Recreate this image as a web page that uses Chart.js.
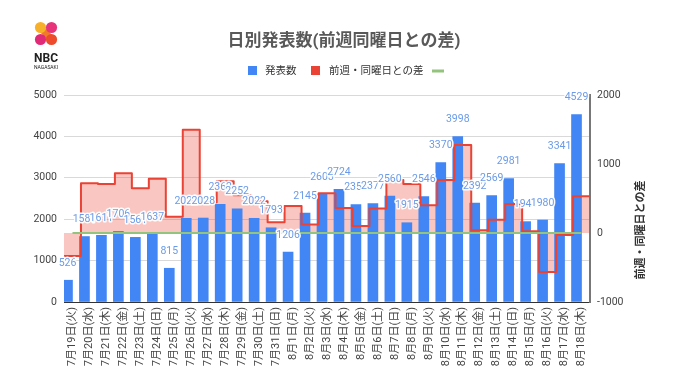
<!DOCTYPE html>
<html>
<head>
<meta charset="utf-8">
<script src="https://cdn.jsdelivr.net/npm/chart.js@4/dist/chart.umd.min.js"></script>
<style>
  html, body { margin: 0; padding: 0; background: #ffffff; }
  #wrap { width: 680px; height: 382px; position: relative; }
</style>
</head>
<body>
<div id="wrap"><canvas id="c" width="680" height="382"></canvas></div>
<script>
// ---- data ----
const dayLabels = [
  '7月19日(火)','7月20日(水)','7月21日(木)','7月22日(金)','7月23日(土)','7月24日(日)','7月25日(月)',
  '7月26日(火)','7月27日(水)','7月28日(木)','7月29日(金)','7月30日(土)','7月31日(日)','8月1日(月)',
  '8月2日(火)','8月3日(水)','8月4日(木)','8月5日(金)','8月6日(土)','8月7日(日)','8月8日(月)',
  '8月9日(火)','8月10日(水)','8月11日(木)','8月12日(金)','8月13日(土)','8月14日(日)','8月15日(月)',
  '8月16日(火)','8月17日(水)','8月18日(木)'
];
const dailyCounts = [526,1581,1611,1706,1561,1637,815,2022,2028,2362,2252,2022,1793,1206,2145,2603,2724,2352,2377,2560,1915,2546,3370,3998,2392,2569,2981,1941,1980,3341,4529];
const weekDiff = [-333,720,710,865,648,787,236,1496,447,751,546,461,156,391,123,575,362,100,355,767,709,401,767,1274,40,192,421,26,-566,-29,531];
const zeroRef = [0,0,0,0,0,0,0,0,0,0,0,0,0,0,0,0,0,0,0,0,0,0,0,0,0,0,0,0,0,0,0];
const leftTicks = [0,1000,2000,3000,4000,5000];
const rightTicks = [-1000,0,1000,2000];
const seriesNames = ['発表数','前週・同曜日との差',''];
const chartTitle = '日別発表数(前週同曜日との差)';
const rightAxisTitle = '前週・同曜日との差';

// step line: each value spans its whole category band
const stepPoints = [];
weekDiff.forEach((v, i) => { stepPoints.push({x: i - 0.5, y: v}); stepPoints.push({x: i + 0.5, y: v}); });
const zeroPoints = zeroRef.map((v, i) => ({x: i, y: v}));

const FONT = "Roboto, 'Noto Sans CJK JP', sans-serif";
const BLUE = '#4285F4', RED = '#EA4335', GREEN = '#93C47D';

const decor = {
  id: 'decor',
  afterDatasetsDraw(chart) {
    const ctx = chart.ctx;
    const meta = chart.getDatasetMeta(0);
    ctx.save();
    ctx.font = '10.5px ' + FONT;
    ctx.textAlign = 'center';
    ctx.textBaseline = 'middle';
    ctx.lineJoin = 'round';
    meta.data.forEach((bar, i) => {
      const t = String(dailyCounts[i]);
      ctx.strokeStyle = 'rgba(255,255,255,0.95)';
      ctx.lineWidth = 3;
      ctx.strokeText(t, bar.x, bar.y - 17);
      ctx.fillStyle = '#6b9be8';
      ctx.fillText(t, bar.x, bar.y - 17);
    });
    ctx.restore();
  },
  afterDraw(chart) {
    const ctx = chart.ctx;
    ctx.save();
    ctx.font = 'bold 17px ' + FONT;
    ctx.fillStyle = '#595959';
    ctx.textAlign = 'center';
    ctx.textBaseline = 'middle';
    ctx.fillText(chartTitle, 344, 42);
    ctx.font = '10.5px ' + FONT;
    ctx.textAlign = 'left';
    ctx.fillStyle = BLUE; ctx.fillRect(248, 66, 9, 9);
    ctx.fillStyle = '#333'; ctx.fillText(seriesNames[0], 265, 71);
    ctx.fillStyle = RED; ctx.fillRect(311, 66, 9, 9);
    ctx.fillStyle = '#333'; ctx.fillText(seriesNames[1], 329, 71);
    ctx.fillStyle = GREEN; ctx.fillRect(432, 69.5, 12, 3);
    ctx.save();
    ctx.translate(641, 230);
    ctx.rotate(-Math.PI / 2);
    ctx.font = 'bold 11px ' + FONT;
    ctx.fillStyle = '#333';
    ctx.textAlign = 'center';
    ctx.fillText(rightAxisTitle, 0, 0);
    ctx.restore();
    const cx1 = 40.5, cx2 = 51.5, cy1 = 27.5, cy2 = 39.5, r = 5.6;
    ctx.strokeStyle = '#f07a2a'; ctx.lineWidth = 7; ctx.lineCap = 'round';
    ctx.beginPath(); ctx.moveTo(cx1, cy1); ctx.lineTo(cx2, cy2); ctx.stroke();
    const dot = (x, y, c) => { ctx.fillStyle = c; ctx.beginPath(); ctx.arc(x, y, r, 0, Math.PI * 2); ctx.fill(); };
    dot(cx1, cy1, '#f7b02a');
    dot(cx2, cy1, '#e8337a');
    dot(cx1, cy2, '#e02a78');
    dot(cx2, cy2, '#ee4a2c');
    ctx.fillStyle = '#222';
    ctx.textAlign = 'center';
    ctx.font = 'bold 12px ' + FONT;
    ctx.fillText('NBC', 46, 59);
    ctx.font = '5px ' + FONT;
    ctx.fillText('NAGASAKI', 46, 68);
    ctx.restore();
  }
};

new Chart(document.getElementById('c'), {
  type: 'bar',
  data: {
    labels: dayLabels,
    datasets: [
      { type: 'bar', label: seriesNames[0], data: dailyCounts, backgroundColor: BLUE,
        xAxisID: 'x', yAxisID: 'y', barThickness: 10, order: 2 },
      { type: 'line', label: seriesNames[1], data: stepPoints, xAxisID: 'x2', yAxisID: 'y2',
        borderColor: RED, borderWidth: 2, backgroundColor: 'rgba(234,67,53,0.3)', fill: 'origin',
        pointRadius: 0, borderJoinStyle: 'round', tension: 0, order: 1 },
      { type: 'line', label: seriesNames[2], data: zeroPoints, xAxisID: 'x2', yAxisID: 'y2',
        borderColor: GREEN, borderWidth: 2, pointRadius: 0, fill: false, order: 0 }
    ]
  },
  options: {
    responsive: false,
    animation: false,
    layout: { padding: { top: 95, left: 0, right: 0, bottom: 0 } },
    plugins: {
      legend: { display: false },
      title: { display: false },
      tooltip: { enabled: false },
      filler: { drawTime: 'beforeDatasetsDraw' }
    },
    scales: {
      x: {
        type: 'category', offset: true,
        grid: { display: false, drawTicks: false },
        border: { display: true, color: '#333333', width: 1 },
        ticks: { autoSkip: false, maxRotation: 90, minRotation: 90, padding: 5,
                 color: '#444444', font: { family: FONT, size: 11 } },
        afterFit: s => { s.height = 80; }
      },
      x2: { type: 'linear', display: false, min: -0.5, max: 30.5, offset: false },
      y: {
        position: 'left', min: 0, max: 5000,
        afterBuildTicks: s => { s.ticks = leftTicks.map(v => ({value: v})); },
        grid: { color: '#d9d9d9', drawTicks: false },
        border: { display: false },
        ticks: { padding: 7, color: '#444444', font: { family: FONT, size: 10.5 },
                 callback: v => String(v) },
        afterFit: s => { s.width = 64; }
      },
      y2: {
        position: 'right', min: -1000, max: 2000,
        afterBuildTicks: s => { s.ticks = rightTicks.map(v => ({value: v})); },
        grid: { drawOnChartArea: false, drawTicks: false },
        border: { display: true, color: '#777777', width: 2 },
        ticks: { padding: 7, color: '#444444', font: { family: FONT, size: 10.5 },
                 callback: v => String(v) },
        afterFit: s => { s.width = 90; }
      }
    }
  },
  plugins: [decor]
});
</script>
</body>
</html>
